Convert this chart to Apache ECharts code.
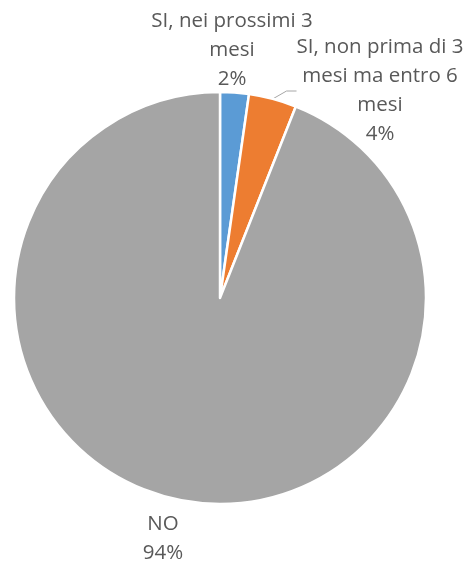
<!DOCTYPE html>
<html>
<head>
<meta charset="utf-8">
<script src="https://cdn.jsdelivr.net/npm/echarts@6/dist/echarts.min.js"></script>
<style>html,body{margin:0;padding:0;background:#fff}#c{width:470px;height:563px}</style>
</head>
<body>
<div id="c"></div>
<script>
var categories = ['SI, nei prossimi 3 mesi', 'SI, non prima di 3 mesi ma entro 6 mesi', 'NO'];
var wrappedNames = ['SI, nei prossimi 3\nmesi', 'SI, non prima di 3\nmesi ma entro 6\nmesi', 'NO'];
var values = [2.25, 3.75, 94.0];
var colors = ['#5B9BD5', '#ED7D31', '#A5A5A5'];
var showLeader = [false, true, false];
var labelCenters = [[232, 50], [380, 91], [163, 539]];

var chart = echarts.init(document.getElementById('c'), null, {renderer: 'canvas'});
chart.setOption({
  animation: false,
  series: [{
    type: 'pie',
    center: [220, 298],
    radius: 206,
    startAngle: 90,
    clockwise: true,
    avoidLabelOverlap: false,
    itemStyle: {borderColor: '#ffffff', borderWidth: 2.5},
    label: {
      show: true,
      position: 'outside',
      fontFamily: 'Open Sans',
      fontSize: 20.5,
      lineHeight: 29,
      color: '#595959',
      align: 'center',
      formatter: function (p) {
        return wrappedNames[p.dataIndex] + '\n' + Math.round(p.percent) + '%';
      }
    },
    labelLine: {show: true, lineStyle: {color: '#A6A6A6', width: 1}, length: 10, length2: 10},
    labelLayout: function (params) {
      var c = labelCenters[params.dataIndex];
      return {x: c[0], y: c[1], align: 'center', verticalAlign: 'middle', hideOverlap: false, moveOverlap: null};
    },
    data: categories.map(function (n, i) {
      return {
        name: n,
        value: values[i],
        itemStyle: {color: colors[i]},
        labelLine: {show: showLeader[i]}
      };
    })
  }]
});
</script>
</body>
</html>
